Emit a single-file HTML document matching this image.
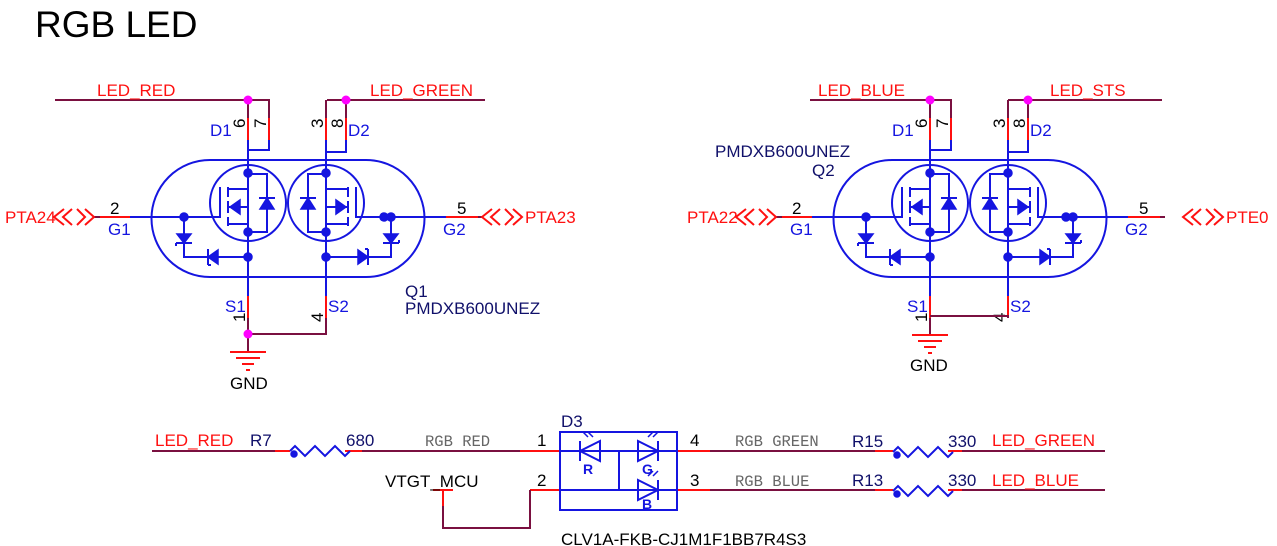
<!DOCTYPE html>
<html><head><meta charset="utf-8"><style>
html,body{margin:0;padding:0;background:#fff;}
svg{display:block;font-family:"Liberation Sans",sans-serif;}
.w{stroke:#7a1040;stroke-width:2;fill:none}
.r{stroke:#ff1010;stroke-width:2;fill:none}
.b{stroke:#1515e0;stroke-width:2;fill:none}
.bf{fill:#1515e0;stroke:#1515e0;stroke-width:1.5}
.lbl{fill:#ff1010;font-size:17px}
.blu{fill:#1515e0;font-size:17px}
.nv{fill:#10106a;font-size:17px}
.blk{fill:#000;font-size:17px}
.mono{font-family:"Liberation Mono",monospace;fill:#666;font-size:15.5px}
.mg{fill:#ff00ff}
</style></head><body>
<svg width="1277" height="546" viewBox="0 0 1277 546">
<defs>
<g id="Q">
  <path class="b" d="M210,160 H366 A58,58 0 0 1 366,277 H210 A58,58 0 0 1 210,160 Z"/>
  <circle class="b" cx="248" cy="203" r="38"/>
  <circle class="b" cx="326" cy="203" r="38"/>
  <path class="b" d="M152,217 H220 V187"/>
  <path class="b" d="M228,187 V197 M228,201 V213 M228,217 V226"/>
  <path class="b" d="M228,189 H248 M228,207 H248 M228,224 H248"/>
  <path class="b" d="M248,160 V277 M248,174 H267 V232 H248"/>
  <polygon class="bf" points="230,207 240,200 240,214"/>
  <polygon class="bf" points="267,198 260,209 274,209"/>
  <path class="b" d="M259,198 H275"/>
  <circle class="bf" cx="248" cy="173" r="4"/>
  <circle class="bf" cx="248" cy="232" r="4"/>
  <circle class="bf" cx="248" cy="257" r="4"/>
  <circle class="bf" cx="184" cy="217" r="4"/>
  <path class="b" d="M184,217 V257 H248"/>
  <polygon class="bf" points="184,243 177,234 191,234"/>
  <path class="b" d="M176,243 H192 M176,243 V246"/>
  <polygon class="bf" points="208,257 218,250 218,264"/>
  <path class="b" d="M208,249 V265 M208,265 H211"/>
  <path class="b" d="M424,217 H356 V187"/>
  <path class="b" d="M348,187 V197 M348,201 V213 M348,217 V226"/>
  <path class="b" d="M348,189 H326 M348,207 H326 M348,224 H326"/>
  <path class="b" d="M326,160 V277 M326,174 H308 V232 H326"/>
  <polygon class="bf" points="346,207 336,200 336,214"/>
  <polygon class="bf" points="308,198 301,209 315,209"/>
  <path class="b" d="M300,198 H316"/>
  <circle class="bf" cx="326" cy="173" r="4"/>
  <circle class="bf" cx="326" cy="232" r="4"/>
  <circle class="bf" cx="326" cy="257" r="4"/>
  <circle class="bf" cx="384" cy="217" r="4"/>
  <circle class="bf" cx="391" cy="217" r="4"/>
  <path class="b" d="M391,217 V257 H326"/>
  <polygon class="bf" points="391,243 384,234 398,234"/>
  <path class="b" d="M383,243 H399 M399,243 V240"/>
  <polygon class="bf" points="368,257 358,250 358,264"/>
  <path class="b" d="M368,249 V265 M368,249 H365"/>
  <path class="b" d="M248,140 V160 M269,140 V150 H248 M326,140 V160 M346,140 V152 H326"/>
  <path class="r" d="M248,118 V140 M269,118 V140 M326,118 V140 M346,118 V140"/>
  <path class="w" d="M248,100 V118 M326,100 V118"/>
  <path class="b" d="M130,217 H152 M424,217 H446"/>
  <path class="r" d="M100,217 H130 M446,217 H478"/>
  <path class="b" d="M248,277 V296 M326,277 V296"/>
  <path class="r" d="M248,296 V318 M326,296 V318"/>
  <text class="blu" x="210" y="136">D1</text>
  <text class="blu" x="348" y="136">D2</text>
  <text class="blu" x="108" y="235">G1</text>
  <text class="blu" x="443" y="235">G2</text>
  <text class="blu" x="225" y="312">S1</text>
  <text class="blu" x="328" y="312">S2</text>
  <text class="blk" x="110" y="214">2</text>
  <text class="blk" x="457" y="214">5</text>
  <text class="blk" transform="translate(245,128) rotate(-90)">6</text>
  <text class="blk" transform="translate(266,128) rotate(-90)">7</text>
  <text class="blk" transform="translate(323,128) rotate(-90)">3</text>
  <text class="blk" transform="translate(343,128) rotate(-90)">8</text>
  <text class="blk" transform="translate(245,322) rotate(-90)">1</text>
  <text class="blk" transform="translate(323,322) rotate(-90)">4</text>
</g>
<g id="port"><path class="r" d="M10,-8 L0,0 L10,8 M18,-8 L9,0 L18,8 M23,-8 L31,0 L23,8 M31,-8 L40,0 L31,8"/></g>
<g id="gnd"><path class="r" d="M-18,0 H18 M-12,6 H12 M-6,12 H6 M-2,18 H2"/></g>
<path id="res" d="M0,0 l5,-5 l10,10 l10,-10 l10,10 l10,-10 l10,10 l5,-5"/>
</defs>

<text x="35" y="37" style="font-size:37px;fill:#000">RGB LED</text>

<use href="#Q"/>
<path class="w" d="M55,100 H269 V118 M327,100 H485 M346,100 V118"/>
<circle class="mg" cx="248" cy="100" r="4.5"/>
<circle class="mg" cx="346" cy="100" r="4.5"/>
<text class="lbl" x="97" y="96">LED_RED</text>
<text class="lbl" x="370" y="96">LED_GREEN</text>
<path class="w" d="M94,217 H100 M478,217 H483"/>
<use href="#port" transform="translate(54,217)"/>
<use href="#port" transform="translate(482,217)"/>
<text class="lbl" x="5" y="223">PTA24</text>
<text class="lbl" x="525" y="223">PTA23</text>
<path class="w" d="M248,318 V352 M326,318 V334 H248"/>
<circle class="mg" cx="248" cy="334" r="4.5"/>
<use href="#gnd" transform="translate(248,352)"/>
<text class="blk" x="230" y="389">GND</text>
<text class="nv" x="405" y="297">Q1</text>
<text class="nv" x="405" y="314">PMDXB600UNEZ</text>

<g transform="translate(682,0)"><use href="#Q"/></g>
<path class="w" d="M810,100 H951 V118 M1008,100 H1162 M1028,100 V118"/>
<circle class="mg" cx="930" cy="100" r="4.5"/>
<circle class="mg" cx="1028" cy="100" r="4.5"/>
<text class="lbl" x="818" y="96">LED_BLUE</text>
<text class="lbl" x="1050" y="96">LED_STS</text>
<path class="w" d="M776,217 H782 M1160,217 H1165"/>
<use href="#port" transform="translate(736,217)"/>
<use href="#port" transform="translate(1183,217)"/>
<text class="lbl" x="687" y="223">PTA22</text>
<text class="lbl" x="1226" y="223">PTE0</text>
<path class="w" d="M930,318 V335 M1008,318 V316 H930"/>
<use href="#gnd" transform="translate(930,335)"/>
<text class="blk" x="910" y="371">GND</text>
<text class="nv" x="715" y="157">PMDXB600UNEZ</text>
<text class="nv" x="812" y="176">Q2</text>

<path class="w" d="M152,451 H275 M362,451 H520 M710,451 H875 M962,451 H1105 M710,490 H875 M962,490 H1105"/>
<path class="r" d="M275,451 H290 M345,451 H362 M520,451 H560 M677,451 H710 M875,451 H893 M948,451 H962 M530,490 H560 M677,490 H710 M875,490 H893 M948,490 H962 M433,490 H453 M443,490 V506"/>
<use href="#res" class="b" transform="translate(290,451)"/>
<circle class="bf" cx="294" cy="454" r="3"/>
<use href="#res" class="b" transform="translate(893,452)"/>
<circle class="bf" cx="897" cy="455" r="3"/>
<use href="#res" class="b" transform="translate(893,491)"/>
<circle class="bf" cx="897" cy="494" r="3"/>
<path class="w" d="M443,506 V528 H530 V490"/>
<text class="lbl" x="155" y="446">LED_RED</text>
<text class="nv" x="250" y="446">R7</text>
<text class="nv" x="346" y="446">680</text>
<text class="mono" x="425" y="446">RGB RED</text>
<text class="blk" x="537" y="446">1</text>
<text class="blk" x="537" y="486">2</text>
<text class="blk" x="385" y="487">VTGT_MCU</text>
<text class="blk" x="690" y="446">4</text>
<text class="blk" x="690" y="486">3</text>
<text class="mono" x="735" y="446">RGB GREEN</text>
<text class="mono" x="735" y="486">RGB BLUE</text>
<text class="nv" x="852" y="447">R15</text>
<text class="nv" x="852" y="486">R13</text>
<text class="nv" x="948" y="447">330</text>
<text class="nv" x="948" y="486">330</text>
<text class="lbl" x="992" y="446">LED_GREEN</text>
<text class="lbl" x="992" y="486">LED_BLUE</text>
<text class="nv" x="561" y="427">D3</text>
<text class="blk" x="561" y="545">CLV1A-FKB-CJ1M1F1BB7R4S3</text>
<rect class="b" x="560" y="432" width="117" height="78"/>
<path class="b" d="M560,451 H677 M560,490 H677 M619,451 V490"/>
<path class="b" d="M580,441 V461 M580,451 L600,441 V461 Z M638,441 L658,451 L638,461 Z M658,441 V461 M638,480 L658,490 L638,500 Z M658,480 V500" fill="#fff"/>
<path class="b" style="stroke-width:1.5" d="M588,437 l-5,-5 M593,437 l-5,-5 M648,437 l5,-5 M653,437 l5,-5 M648,476 l5,-5 M653,476 l5,-5"/>
<text x="583" y="474" style="fill:#1515e0;font-size:14px;font-weight:bold">R</text>
<text x="642" y="474" style="fill:#1515e0;font-size:14px;font-weight:bold">G</text>
<text x="642" y="509" style="fill:#1515e0;font-size:14px;font-weight:bold">B</text>
</svg>
</body></html>
